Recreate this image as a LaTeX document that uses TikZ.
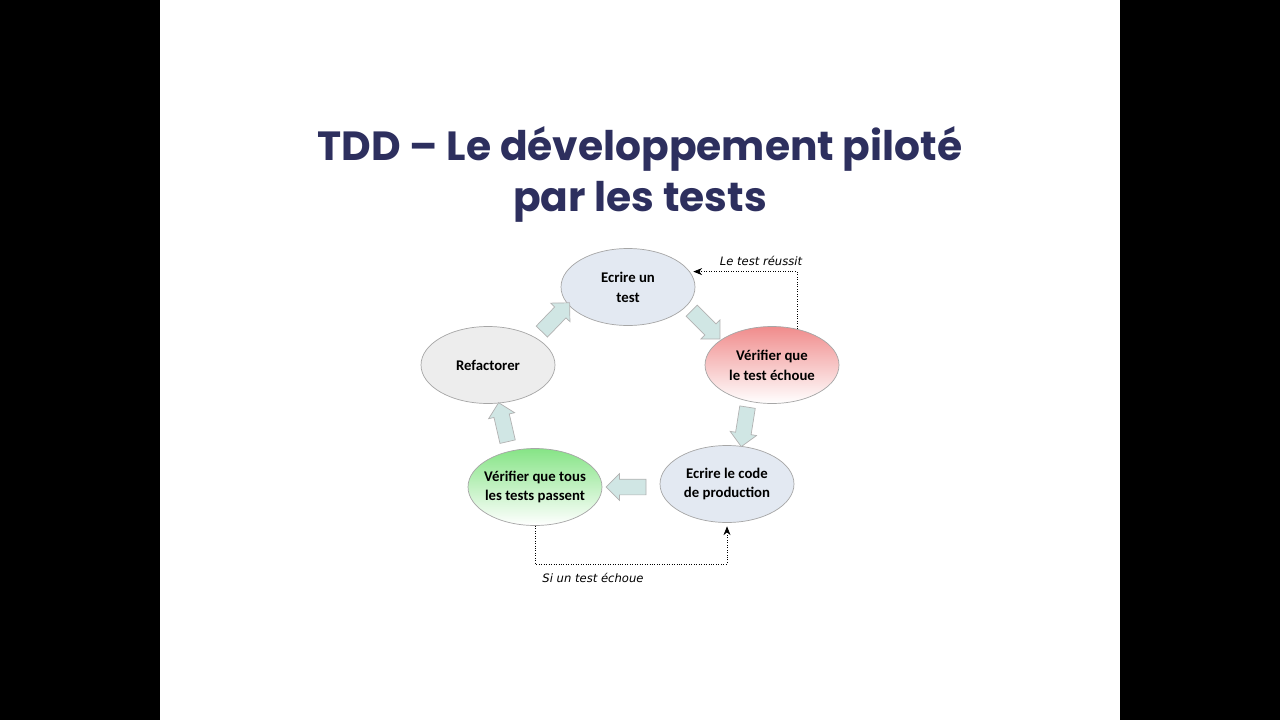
\documentclass[tikz,border=0pt]{standalone}
\usepackage{fontspec}
\setmainfont{Carlito}
\newfontfamily\titlefont{Poppins}
\newfontfamily\notefont{DejaVu Sans}
\usetikzlibrary{shapes.geometric,shapes.arrows,arrows.meta,calc,positioning}
\definecolor{titleblue}{HTML}{2D2F5E}
\definecolor{stepblue}{HTML}{E3E9F2}
\definecolor{stepgray}{HTML}{EDEDED}
\definecolor{stepred}{HTML}{F08C8C}
\definecolor{stepgreen}{HTML}{86E486}
\definecolor{arrowfill}{HTML}{D0E6E4}

\begin{document}
\begin{tikzpicture}
[x=0.02cm,y=-0.02cm,
etape/.style={ellipse,draw=gray!70,minimum width=2.68cm,minimum height=1.54cm,
  inner xsep=-0.25cm,inner ysep=0pt,
  align=center,font=\fontsize{8.4}{11.3}\selectfont\bfseries},
fleche/.style={single arrow,draw=gray!60,fill=arrowfill,inner sep=0.15cm,
  single arrow head extend=0.11cm,minimum height=0.8cm},
retour/.style={densely dotted,-{Stealth[length=5pt,width=4pt]},shorten >=2pt},
note/.style={font=\notefont\itshape\fontsize{6.6}{8}\selectfont}]

\fill[black] (0,0) rectangle (1280,720);
\fill[white] (160,0) rectangle (1120,720);

\node (titre) at (640,174) [align=center,text=titleblue,
  font=\titlefont\bfseries\fontsize{23.2}{29}\selectfont]
  {TDD – Le développement piloté\\par les tests};

\node (v1) at (628,287) [etape,fill=stepblue] {Ecrire un\\test};
\node (v2) at (772,365) [etape,top color=stepred,bottom color=white] {Vérifier que\\le test échoue};
\node (v3) at (727,484) [etape,fill=stepblue] {Ecrire le code\\de production};
\node (v4) at (535,487) [etape,top color=stepgreen,bottom color=white] {Vérifier que tous\\les tests passent};
\node (v5) at (488,365) [etape,fill=stepgray] {Refactorer};

\node (a1) at (703,322) [fleche,rotate=-45] {};
\node (a2) at (745,423) [fleche,rotate=-99] {};
\node (a3) at (630,487) [fleche,rotate=180] {};
\node (a4) at (504,426) [fleche,rotate=103] {};
\node (a5) at (553,320) [fleche,rotate=46] {};

\draw[retour] (v2.55) |- (v1.14);
\draw[retour] (v4.south) -- ++(0,38) -| (v3.south);

\node (n1) at (761,261) [note] {Le test réussit};
\node (n2) at (593,578) [note] {Si un test échoue};

\end{tikzpicture}
\end{document}
